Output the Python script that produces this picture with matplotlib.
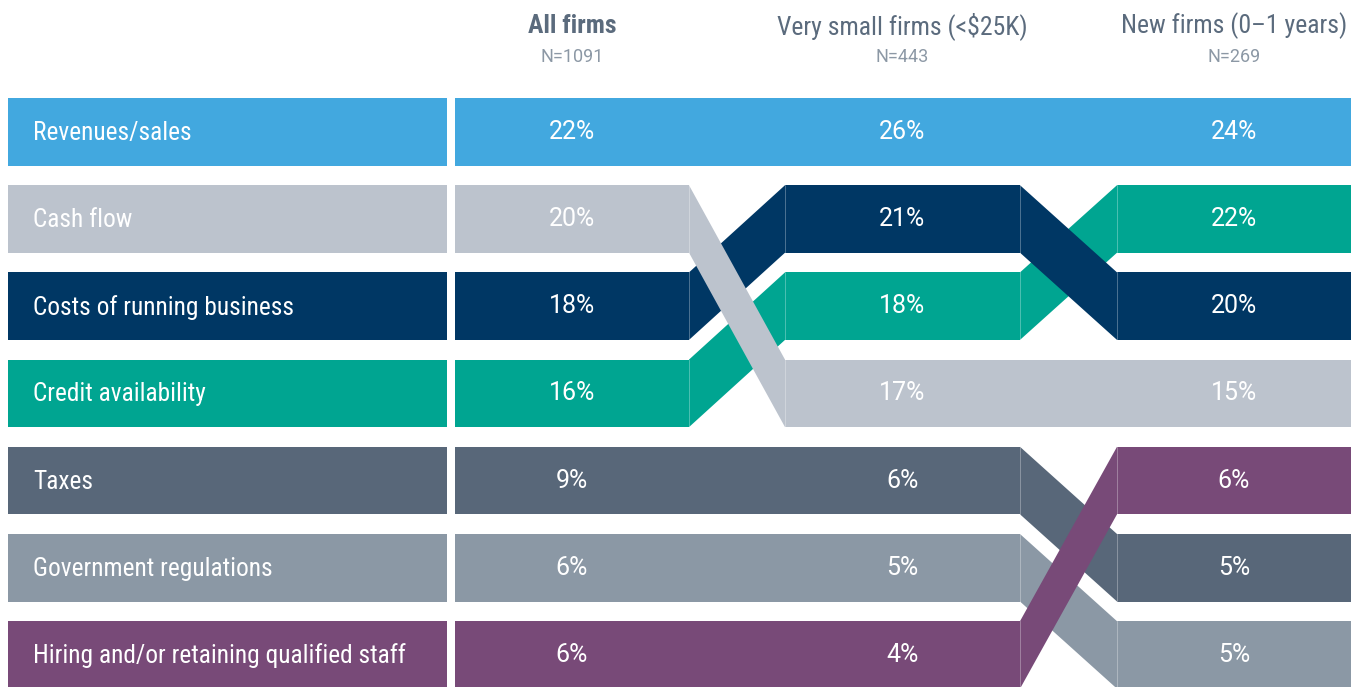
import matplotlib.pyplot as plt
from matplotlib.patches import Polygon, Rectangle
from matplotlib import font_manager

# Data
categories = ['Revenues/sales', 'Cash flow', 'Costs of running business', 'Credit availability',
              'Taxes', 'Government regulations', 'Hiring and/or retaining qualified staff']
groups = ['All firms', 'Very small firms (<$25K)', 'New firms (0\u20131 years)']
group_n = ['N=1091', 'N=443', 'N=269']
all_firms = [22, 20, 18, 16, 9, 6, 6]
very_small = [26, 17, 21, 18, 6, 5, 4]
new_firms = [24, 15, 20, 22, 5, 5, 6]
colors = ['#42a8df', '#bcc3cd', '#003764', '#00a591', '#586779', '#8b98a5', '#784a78']

names = set(f.name for f in font_manager.fontManager.ttflist)
cond = [f for f in ['Roboto Condensed', 'Liberation Sans Narrow', 'Roboto', 'DejaVu Sans'] if f in names]
wide = [f for f in ['Roboto', 'DejaVu Sans'] if f in names]
plt.rcParams['font.family'] = cond

series = [all_firms, very_small, new_firms]


def ranks(vals):
    # ties keep category order
    order = sorted(range(len(vals)), key=lambda i: (-vals[i], i))
    r = [0] * len(vals)
    for pos, i in enumerate(order):
        r[i] = pos
    return r


rank_cols = [ranks(s) for s in series]

W, H = 1361, 687
fig = plt.figure(figsize=(W / 100, H / 100), dpi=100)
ax = fig.add_axes([0, 0, 1, 1])
ax.set_xlim(0, W)
ax.set_ylim(H, 0)
ax.axis('off')

top0, pitch, bh = 98, 87.2, 67.5
label_x0, label_x1 = 8, 447
col_x = [(455, 689), (785, 1020), (1117, 1351)]
head_col = '#5b6b7d'
sub_col = '#8c98a5'


def ytop(r):
    return top0 + r * pitch


# label column
for i, cat in enumerate(categories):
    y = ytop(rank_cols[0][i])
    ax.add_patch(Rectangle((label_x0, y), label_x1 - label_x0, bh, color=colors[i], lw=0))
    ax.text(33, y + bh / 2 + 1, cat, color='white', fontsize=18.3, va='center', ha='left')

# bars per column and connectors
for c, (x0, x1) in enumerate(col_x):
    for i in range(len(categories)):
        y = ytop(rank_cols[c][i])
        ax.add_patch(Rectangle((x0, y), x1 - x0, bh, color=colors[i], lw=0, zorder=1))
        ax.text((x0 + x1) / 2, y + bh / 2, f'{series[c][i]}%', color='white', fontsize=18,
                family=wide, va='center', ha='center', zorder=20)
    if c < len(col_x) - 1:
        nx0 = col_x[c + 1][0]
        for i in range(len(categories)):
            ra, rb = rank_cols[c][i], rank_cols[c + 1][i]
            ya, yb = ytop(ra), ytop(rb)
            z = 2 + abs(ra - rb) - i * 0.01
            poly = Polygon([(x1, ya), (nx0, yb), (nx0, yb + bh), (x1, ya + bh)],
                           closed=True, color=colors[i], lw=0, zorder=z)
            ax.add_patch(poly)
            if ra != rb:
                ax.plot([x1, x1], [ya, ya + bh], color='white', alpha=0.35, lw=0.6, zorder=z + 0.001)
                ax.plot([nx0, nx0], [yb, yb + bh], color='white', alpha=0.35, lw=0.6, zorder=z + 0.001)

# headers
for c, (x0, x1) in enumerate(col_x):
    cx = (x0 + x1) / 2
    ax.text(cx, 26, groups[c], color=head_col, fontsize=18.5, ha='center', va='center',
            fontweight='bold' if c == 0 else 'normal')
    ax.text(cx, 57, group_n[c], color=sub_col, fontsize=13, family=wide,
            ha='center', va='center')

fig.savefig('out.png', dpi=100, facecolor='white')
